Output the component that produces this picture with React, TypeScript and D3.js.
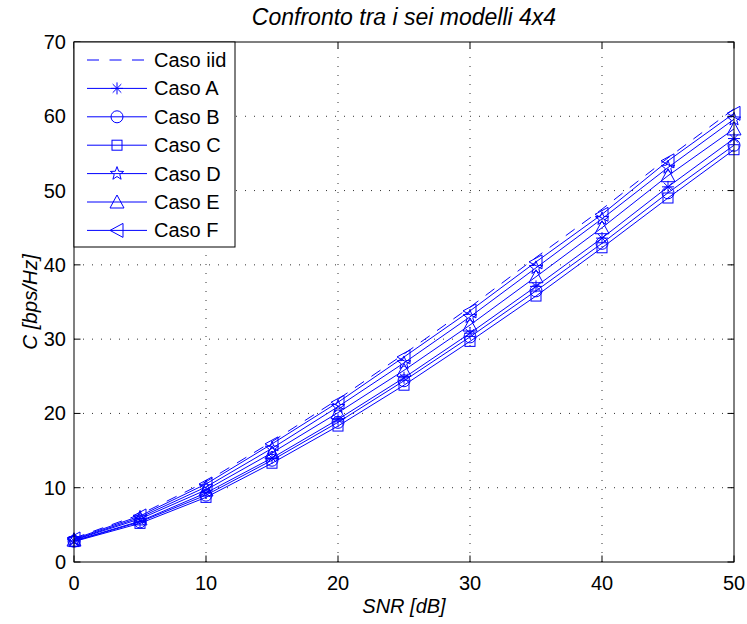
import React from "react";
import * as d3 from "d3";

const snr = [0, 5, 10, 15, 20, 25, 30, 35, 40, 45, 50];
const casoIid = [3.2, 6.4, 10.8, 16.2, 21.9, 28.0, 34.3, 41.0, 47.5, 54.4, 61.0];
const casoA = [2.85, 5.5, 9.3, 14.0, 19.2, 24.8, 30.8, 37.1, 43.6, 50.5, 57.0];
const casoB = [2.8, 5.4, 9.0, 13.7, 18.8, 24.4, 30.3, 36.5, 42.9, 49.7, 56.1];
const casoC = [2.75, 5.2, 8.7, 13.3, 18.3, 23.8, 29.7, 35.8, 42.3, 49.0, 55.5];
const casoD = [3.0, 6.0, 10.1, 15.3, 20.9, 26.8, 33.0, 39.6, 46.2, 53.1, 59.6];
const casoE = [2.95, 5.8, 9.7, 14.7, 20.1, 25.8, 31.9, 38.4, 45.0, 52.0, 58.3];
const casoF = [3.1, 6.2, 10.5, 15.9, 21.5, 27.6, 33.8, 40.4, 46.8, 54.0, 60.4];
const xTicks = [0, 10, 20, 30, 40, 50];
const yTicks = [0, 10, 20, 30, 40, 50, 60, 70];
const seriesNames = ["Caso iid", "Caso A", "Caso B", "Caso C", "Caso D", "Caso E", "Caso F"];
const seriesMarkers = ["none", "asterisk", "circle", "square", "star", "triUp", "triLeft"];
const seriesValues = [casoIid, casoA, casoB, casoC, casoD, casoE, casoF];

const W = 747, H = 624;
const M = { left: 74, right: 734, top: 42, bottom: 562 };
const BLUE = "#0000ff";
const FONT = "Arial, 'Liberation Sans', Helvetica, sans-serif";

function Marker({ type, x, y }: { type: string; x: number; y: number }) {
  const s = 6;
  const common = { fill: "none", stroke: BLUE, strokeWidth: 1 };
  if (type === "circle") return <circle cx={x} cy={y} r={s} {...common} />;
  if (type === "square") return <rect x={x - 5} y={y - 5} width={10} height={10} {...common} />;
  if (type === "asterisk") {
    const a = 6, b = 4.3;
    return (
      <path
        d={`M${x - a},${y}L${x + a},${y}M${x},${y - a}L${x},${y + a}M${x - b},${y - b}L${x + b},${y + b}M${x - b},${y + b}L${x + b},${y - b}`}
        {...common}
      />
    );
  }
  if (type === "triUp") {
    return <path d={`M${x},${y - 7}L${x + 7},${y + 6}L${x - 7},${y + 6}Z`} {...common} />;
  }
  if (type === "triLeft") {
    return <path d={`M${x - 7},${y}L${x + 6},${y - 7}L${x + 6},${y + 7}Z`} {...common} />;
  }
  if (type === "star") {
    const pts: string[] = [];
    const R = 7, r = 2.9;
    for (let i = 0; i < 10; i++) {
      const ang = -Math.PI / 2 + (i * Math.PI) / 5;
      const rr = i % 2 === 0 ? R : r;
      pts.push(`${x + rr * Math.cos(ang)},${y + rr * Math.sin(ang)}`);
    }
    return <path d={`M${pts.join("L")}Z`} {...common} />;
  }
  return null;
}

export default function App() {
  const x = d3.scaleLinear().domain([0, 50]).range([M.left, M.right]);
  const y = d3.scaleLinear().domain([0, 70]).range([M.bottom, M.top]);
  const line = d3
    .line<number>()
    .x((_, i) => x(snr[i]))
    .y((d) => y(d));
  const tick = 6.5;

  const legX = 74, legY = 42, legW = 161, legH = 205;
  const rowH = 28.4;

  return (
    <svg width={W} height={H} style={{ position: "absolute", left: 0, top: 0, background: "#fff" }} fontFamily={FONT}>
      <rect x={0} y={0} width={W} height={H} fill="#fff" />
      {/* grid */}
      {xTicks.slice(1, -1).map((t) => (
        <line key={"gx" + t} x1={x(t)} x2={x(t)} y1={M.bottom} y2={M.top} stroke="#333" strokeWidth={1} strokeDasharray="1,8" />
      ))}
      {yTicks.slice(1, -1).map((t) => (
        <line key={"gy" + t} x1={M.left} x2={M.right} y1={y(t)} y2={y(t)} stroke="#333" strokeWidth={1} strokeDasharray="1,8" />
      ))}
      {/* series */}
      {seriesValues.map((vals, si) => (
        <g key={"s" + si}>
          <path
            d={line(vals) || ""}
            fill="none"
            stroke={BLUE}
            strokeWidth={1}
            strokeDasharray={si === 0 ? "11,9" : undefined}
          />
          {vals.map((v, i) => (
            <Marker key={i} type={seriesMarkers[si]} x={x(snr[i])} y={y(v)} />
          ))}
        </g>
      ))}
      {/* axes box */}
      <rect x={M.left} y={M.top} width={M.right - M.left} height={M.bottom - M.top} fill="none" stroke="#000" strokeWidth={1} />
      {xTicks.map((t) => (
        <g key={"xt" + t}>
          <line x1={x(t)} x2={x(t)} y1={M.bottom} y2={M.bottom - tick} stroke="#000" />
          <line x1={x(t)} x2={x(t)} y1={M.top} y2={M.top + tick} stroke="#000" />
          <text x={x(t)} y={M.bottom + 28} textAnchor="middle" fontSize={20} fill="#000">
            {t}
          </text>
        </g>
      ))}
      {yTicks.map((t) => (
        <g key={"yt" + t}>
          <line x1={M.left} x2={M.left + tick} y1={y(t)} y2={y(t)} stroke="#000" />
          <line x1={M.right} x2={M.right - tick} y1={y(t)} y2={y(t)} stroke="#000" />
          <text x={M.left - 8} y={y(t) + 7} textAnchor="end" fontSize={20} fill="#000">
            {t}
          </text>
        </g>
      ))}
      {/* title & labels */}
      <text x={(M.left + M.right) / 2} y={25} textAnchor="middle" fontSize={23} fontStyle="italic" fill="#000">
        Confronto tra i sei modelli 4x4
      </text>
      <text x={(M.left + M.right) / 2} y={613} textAnchor="middle" fontSize={20} fontStyle="italic" fill="#000">
        SNR [dB]
      </text>
      <text
        transform={`translate(37,${(M.top + M.bottom) / 2}) rotate(-90)`}
        textAnchor="middle"
        fontSize={20.5}
        fontStyle="italic"
        fill="#000"
      >
        C [bps/Hz]
      </text>
      {/* legend */}
      <rect x={legX} y={legY} width={legW} height={legH} fill="#fff" stroke="#000" strokeWidth={1} />
      {seriesNames.map((name, i) => {
        const cy = legY + 18 + i * rowH;
        return (
          <g key={"l" + i}>
            <line x1={87} x2={147} y1={cy} y2={cy} stroke={BLUE} strokeWidth={1} strokeDasharray={i === 0 ? "12,10.5" : undefined} />
            <Marker type={seriesMarkers[i]} x={117} y={cy} />
            <text x={154} y={cy + 7} fontSize={20} fill="#000">
              {name}
            </text>
          </g>
        );
      })}
    </svg>
  );
}
